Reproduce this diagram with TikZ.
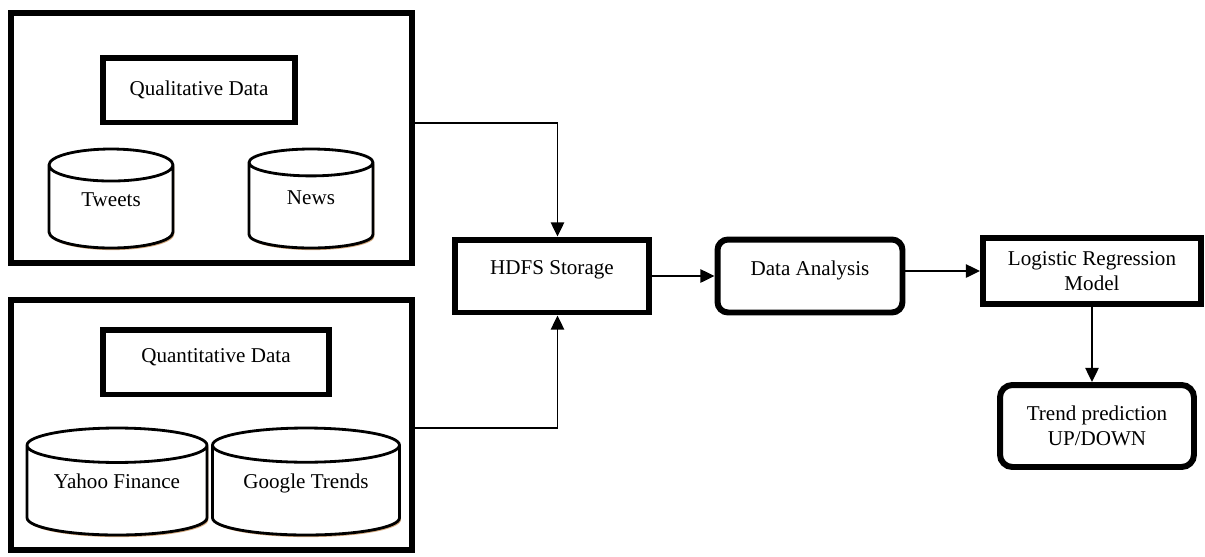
\documentclass[tikz,border=0pt]{standalone}
\usepackage{fontspec}
\setmainfont{Liberation Serif}
\usetikzlibrary{shapes.geometric,arrows.meta,shadows}

\begin{document}
\begin{tikzpicture}[
    x=0.02cm, y=-0.02cm,
    group/.style={draw, line width=3.4pt, minimum width=8.02cm, minimum height=5cm},
    title/.style={draw, line width=3.4pt, minimum height=1.3cm, font=\fontsize{12}{14.5}\selectfont},
    store/.style={draw, cylinder, shape border rotate=90, anchor=shape center, line width=1.6pt, fill=white,
        drop shadow={shadow xshift=0.8pt, shadow yshift=-1.2pt, fill=brown!75!white, opacity=0.9},
        font=\fontsize{12}{14.5}\selectfont},
    stage/.style={draw, line width=3.4pt, align=center, font=\fontsize{12}{14.5}\selectfont},
    flow/.style={line width=1.1pt, -{Triangle[length=8pt, width=7.5pt]}}
]
\useasboundingbox (0,0) rectangle (1205,556);

% qualitative sources
\node[group] (qualgrp) at (211.5,138) {};
\node[title, minimum width=3.84cm] (qual) at (199,90) {Qualitative Data};
\node[store, minimum width=2.48cm, minimum height=1.98cm, aspect=0.45, text depth=0.44cm] (tweets) at (111,198.5) {Tweets};
\node[store, minimum width=2.48cm, minimum height=1.98cm, aspect=0.45, text depth=0.44cm] (news) at (311,198.5) {News};

% quantitative sources
\node[group] (quantgrp) at (211.5,425) {};
\node[title, minimum width=4.52cm, text depth=0.26cm] (quant) at (216,362) {Quantitative Data};
\node[store, minimum width=3.6cm, minimum height=2.14cm, aspect=0.25, text depth=0.5cm] (yahoo) at (117,481.5) {Yahoo Finance};
\node[store, minimum width=3.74cm, minimum height=2.14cm, aspect=0.25, text depth=0.5cm] (google) at (306,481.5) {Google Trends};

% processing chain
\node[stage, minimum width=3.9cm, minimum height=1.46cm, text depth=0.34cm] (hdfs) at (552,276) {HDFS Storage};
\node[stage, rounded corners=6pt, minimum width=3.7cm, minimum height=1.46cm, text depth=0.32cm] (analysis) at (810,276) {Data Analysis};
\node[stage, minimum width=4.36cm, minimum height=1.32cm] (logit) at (1092,271) {Logistic Regression\\Model};
\node[stage, rounded corners=7pt, minimum width=3.88cm, minimum height=1.64cm] (trend) at (1097,426) {Trend prediction\\UP/DOWN};

\draw[flow] ([yshift=0.3cm]qualgrp.east) -| ([xshift=0.11cm]hdfs.north);
\draw[flow] ([yshift=-0.06cm]quantgrp.east) -| ([xshift=0.11cm]hdfs.south);
\draw[flow] (hdfs) -- (analysis);
\draw[flow] (analysis.east |- logit) -- (logit);
\draw[flow] (logit) -- (logit |- trend.north);
\end{tikzpicture}
\end{document}
